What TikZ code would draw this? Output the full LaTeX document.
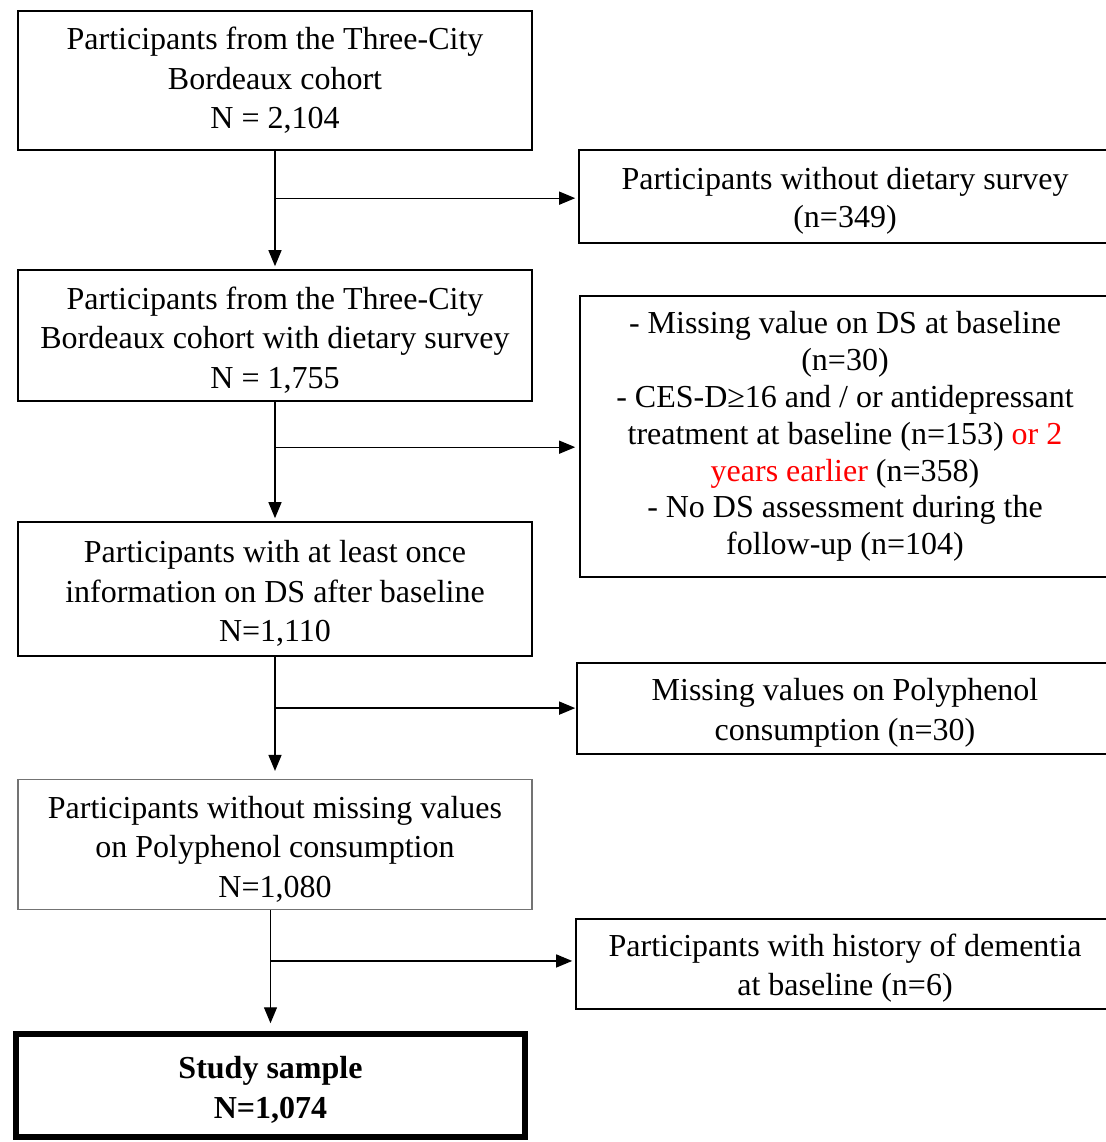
\documentclass[tikz,border=0pt]{standalone}
\usepackage{fontspec}
\setmainfont{Liberation Serif}
\usepackage{tikz}
\usetikzlibrary{arrows.meta}
\tikzset{%
      >={Triangle[width=13pt,length=16pt]},
}
\newcommand{\boxstrut}{\rule{0pt}{31pt}}
\tikzstyle{block} = [rectangle, draw, line width=1.6pt, inner sep=0pt,
    text centered, minimum width=514pt]
\tikzstyle{excl} = [rectangle, draw, line width=1.6pt, inner sep=0pt,
    text centered, minimum width=532pt]
\tikzstyle{final} = [rectangle, draw, line width=5.5pt, inner sep=0pt,
    text centered, minimum width=509pt,
    font=\fontsize{32}{39.5}\selectfont\bfseries]
\tikzstyle{line} = [draw, ->, line width=1.3pt]

\begin{document}
\begin{tikzpicture}[x=1pt, y=-1pt, node distance=255pt,
    every node/.style={font=\fontsize{32}{39.5}\selectfont}, align=center]
        \useasboundingbox (0,0) rectangle (1105,1142);

        \node[block, minimum height=139pt] (cohort) at (275,80.5) {Participants from the Three-City\\Bordeaux cohort\\N = 2,104};
        \node[block, minimum height=131pt, below of=cohort] (diet) {\boxstrut Participants from the Three-City\\Bordeaux cohort with dietary survey\\N = 1,755};
        \node[block, minimum height=134pt, below of=diet, node distance=253.5pt] (ds) {\boxstrut Participants with at least once\\information on DS after baseline\\N=1,110};
        \node[block, minimum height=130pt, below of=ds, node distance=255.5pt, draw=black!55, line width=1.1pt] (poly) {\boxstrut Participants without missing values\\on Polyphenol consumption\\N=1,080};
        \node[final, minimum height=103pt] (sample) at (270.5,1085.5) {\boxstrut Study sample\\N=1,074};

        \node[excl, minimum height=93pt, font=\fontsize{32}{38.5}\selectfont] (nodiet) at (845,196.5) {\boxstrut Participants without dietary survey\\(n=349)};
        \node[excl, minimum height=281pt, minimum width=530pt,
            font=\fontsize{32}{36.8}\selectfont] (noDS) at (845,436.5) {- Missing value on DS at baseline\\(n=30)\\- CES-D≥16 and / or antidepressant\\treatment at baseline (n=153) \textcolor{red}{or 2}\\\textcolor{red}{years earlier} (n=358)\\- No DS assessment during the\\follow-up (n=104)};
        \node[excl, minimum height=91pt, minimum width=536pt, font=\fontsize{32}{40}\selectfont] (nopoly) at (845,708.5) {\boxstrut Missing values on Polyphenol\\consumption (n=30)};
        \node[excl, minimum height=90pt, minimum width=538pt] (dementia) at (845,964) {\boxstrut Participants with history of dementia\\at baseline (n=6)};

        % main flow
        \path (cohort.south) -- (diet.north) coordinate[pos=0.40] (b1);
        \path (diet.south) -- (ds.north) coordinate[pos=0.38] (b2);
        \path (ds.south) -- (poly.north) coordinate[pos=0.42] (b3);
        \path (sample.north |- poly.south) -- (sample.north) coordinate[pos=0.42] (b4);

        \path [line, shorten >=3pt] (cohort) -- (diet);
        \path [line, shorten >=3pt] (diet) -- (ds);
        \path [line, shorten >=8pt] (ds) -- (poly);
        \path [line, shorten >=8pt] (sample.north |- poly.south) -- (sample.north);

        % exclusions
        \path [line, shorten >=3pt] (b1) -- (b1 -| nodiet.west);
        \path [line, shorten >=4pt] (b2) -- (b2 -| noDS.west);
        \path [line, shorten >=1pt] (b3) -- (b3 -| nopoly.west);
        \path [line, shorten >=3pt] (b4) -- (b4 -| dementia.west);
    \end{tikzpicture}
\end{document}
